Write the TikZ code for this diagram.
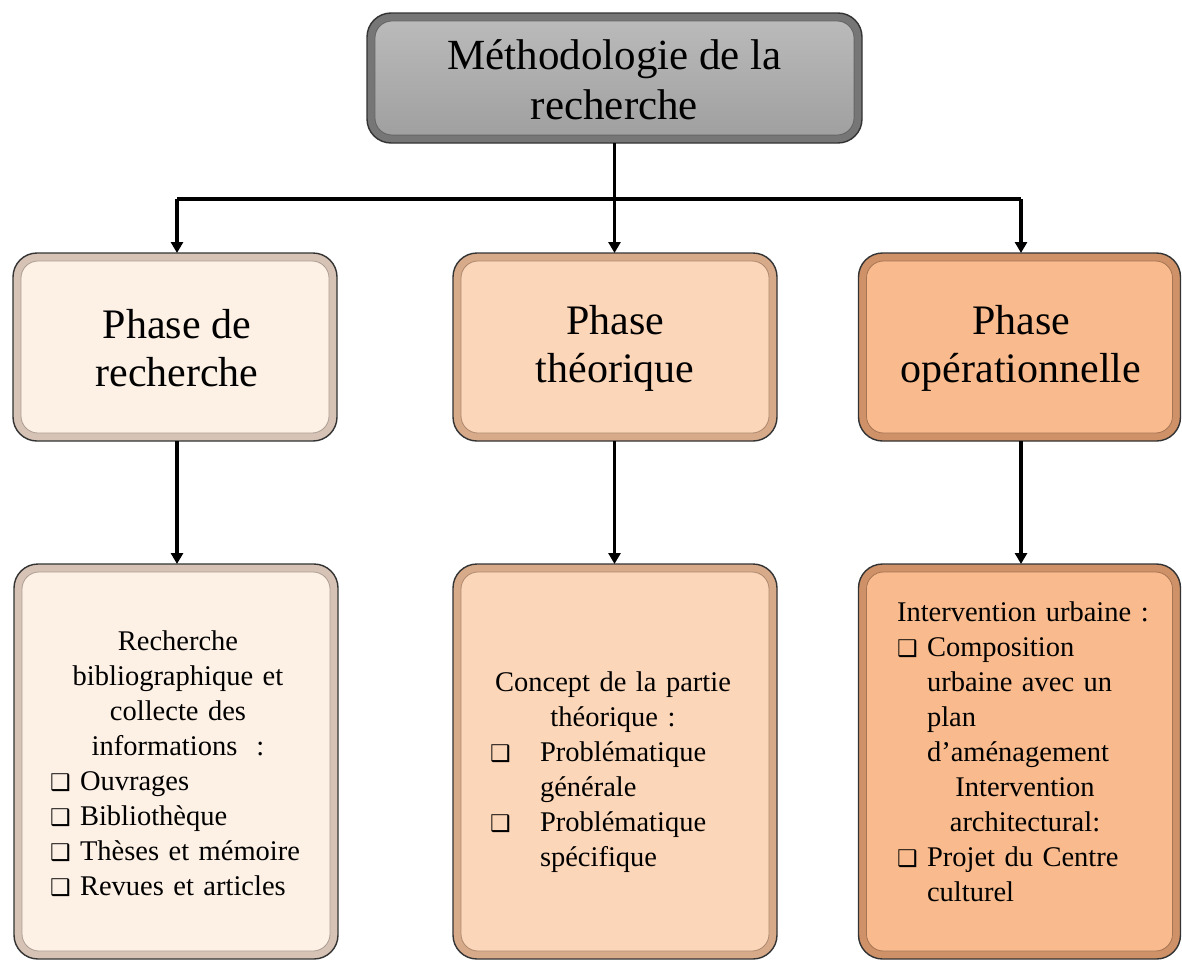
\documentclass[tikz,border=0pt]{standalone}
\usepackage{fontspec}
\setmainfont{Liberation Serif}
\newfontfamily\dejavu{DejaVu Sans}
\usetikzlibrary{backgrounds,arrows.meta}
\definecolor{grimain}{HTML}{A0A0A0}
\definecolor{gritop}{HTML}{BABABA}
\definecolor{gririm}{HTML}{767676}
\definecolor{amain}{HTML}{FDF0E5}
\definecolor{arim}{HTML}{D6C3B6}
\definecolor{bmain}{HTML}{FCD6B8}
\definecolor{brim}{HTML}{D7AA8A}
\definecolor{cmain}{HTML}{F9BB8D}
\definecolor{crim}{HTML}{CE9168}
\newcommand{\cb}{{\dejavu\fontsize{23}{23}\selectfont ❑}}
\newcommand{\cbi}{\makebox[30pt][l]{\cb}}
\tikzset{
  frame/.style={rectangle, draw=black!80, line width=1.4pt, rounded corners=24pt, outer sep=0pt, inner sep=0pt},
  bigtxt/.style={align=center, font=\fontsize{43}{50}\selectfont, inner sep=0pt},
  phasetxt/.style={align=center, font=\fontsize{42}{48}\selectfont, inner sep=0pt},
  bodytxt/.style={font=\fontsize{28.5}{35}\selectfont, inner sep=0pt},
  conn/.style={line width=3.2pt, black},
  arr/.style={conn, -{Triangle[length=11pt,width=12pt]}},
}
\newcommand{\bevel}[3]{%
  \fill[#2, rounded corners=24pt] (#1.north west) rectangle (#1.south east);
  \fill[#3, rounded corners=17pt] ([shift={(8,8)}]#1.north west) rectangle ([shift={(-8,-8)}]#1.south east);
  \draw[#2!80!black, line width=0.8pt, rounded corners=17pt] ([shift={(8,8)}]#1.north west) rectangle ([shift={(-8,-8)}]#1.south east);
}
\begin{document}
\begin{tikzpicture}[x=1pt,y=-1pt]
\useasboundingbox (0,0) rectangle (1182,961);
% frames
\node[frame, minimum width=495pt, minimum height=130pt] (top) at (614.5,78) {};
\node[frame, minimum width=324pt, minimum height=188pt] (p1) at (175,347) {};
\node[frame, minimum width=324pt, minimum height=188pt] (p2) at (615,347) {};
\node[frame, minimum width=322pt, minimum height=188pt] (p3) at (1019.5,347) {};
\node[frame, minimum width=324pt, minimum height=395pt] (b1) at (176,761.5) {};
\node[frame, minimum width=324pt, minimum height=395pt] (b2) at (615,761.5) {};
\node[frame, minimum width=322pt, minimum height=395pt] (b3) at (1019.5,761.5) {};
\begin{scope}[on background layer]
  \fill[gririm, rounded corners=24pt] (top.north west) rectangle (top.south east);
  \fill[top color=gritop, bottom color=grimain, rounded corners=17pt] ([shift={(8,8)}]top.north west) rectangle ([shift={(-8,-8)}]top.south east);
  \draw[black!60, line width=0.8pt, rounded corners=17pt] ([shift={(8,8)}]top.north west) rectangle ([shift={(-8,-8)}]top.south east);
  \bevel{p1}{arim}{amain}
  \bevel{p2}{brim}{bmain}
  \bevel{p3}{crim}{cmain}
  \bevel{b1}{arim}{amain}
  \bevel{b2}{brim}{bmain}
  \bevel{b3}{crim}{cmain}
\end{scope}
% texts
\node[bigtxt] (ttop) at (614.5,80) {Méthodologie de la\\recherche};
\node[phasetxt] (tp1) at (177,348) {Phase de\\recherche};
\node[phasetxt] (tp2) at (615,348) {Phase\\théorique};
\node[phasetxt] (tp3) at (1021,348) {Phase\\opérationnelle};
\node[bodytxt, text width=256pt] (tb1) at (178,764) {\centering Recherche\\bibliographique et\\collecte des\\informations~ :\par\raggedright
\cbi Ouvrages\\\cbi Bibliothèque\\\cbi Thèses et mémoire\\\cbi Revues et articles\par};
\node[bodytxt, text width=246pt] (tb2) at (613,772) {\centering Concept de la partie\\théorique :\par\raggedright
\makebox[50pt][l]{\cb}Problématique\\\hspace*{50pt}générale\\\makebox[50pt][l]{\cb}Problématique\\\hspace*{50pt}spécifique\par};
\node[bodytxt, text width=256pt] (tb3) at (1025,752) {\raggedright Intervention urbaine :\\
\cbi Composition\\\hspace*{30pt}urbaine avec un\\\hspace*{30pt}plan\\\hspace*{30pt}d’aménagement\par
\centering Intervention\\architectural:\par\raggedright
\cbi Projet du Centre\\\hspace*{30pt}culturel\par};
% connectors
\coordinate (bus) at (614.5,199);
\draw[conn] (top.south) -- (bus);
\draw[conn] (bus -| 177,0) -- (bus -| 1021,0);
\draw[arr] (bus -| 177,0) -- (177,0 |- p1.north);
\draw[arr] (bus) -- (614.5,0 |- p2.north);
\draw[arr] (bus -| 1021,0) -- (1021,0 |- p3.north);
\draw[arr] (177,0 |- p1.south) -- (177,0 |- b1.north);
\draw[arr] (614.5,0 |- p2.south) -- (614.5,0 |- b2.north);
\draw[arr] (1021,0 |- p3.south) -- (1021,0 |- b3.north);
\end{tikzpicture}
\end{document}
